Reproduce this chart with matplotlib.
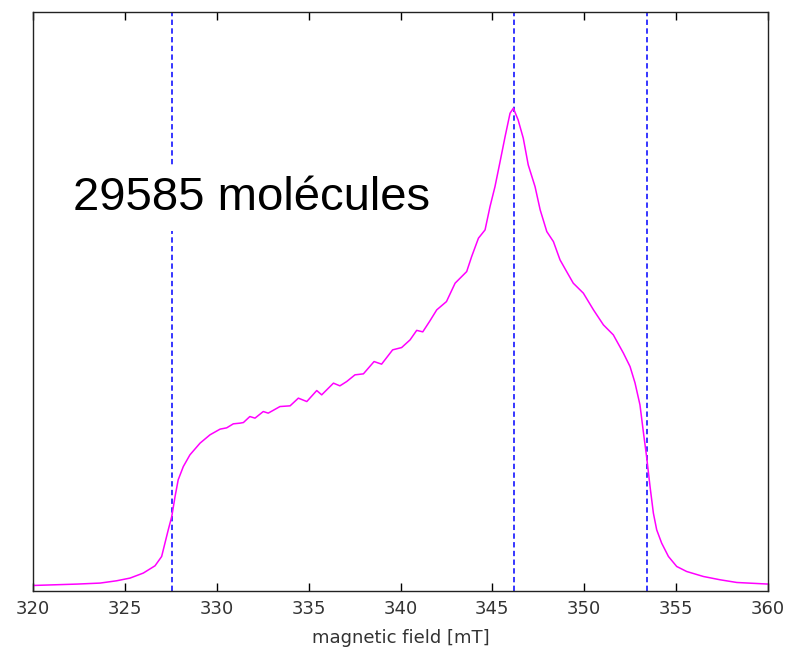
import matplotlib
matplotlib.use("Agg")
import matplotlib.pyplot as plt
import numpy as np

# magnetic field [mT]
field = [320.0, 322.4, 323.65, 324.55, 325.28, 326.0, 326.64, 327.0, 327.18, 327.36,
         327.55, 327.73, 327.9, 328.18, 328.54, 329.09, 329.63, 330.18, 330.54, 330.9,
         331.27, 331.45, 331.8, 332.08, 332.53, 332.8, 333.44, 333.99, 334.44, 334.9,
         335.44, 335.71, 336.35, 336.7, 337.07, 337.52, 337.98, 338.56, 338.97, 339.57,
         340.06, 340.52, 340.88, 341.21, 341.6, 341.97, 342.5, 342.97, 343.6, 343.87,
         344.24, 344.6, 344.87, 345.14, 345.4, 345.69, 345.96, 346.14, 346.4, 346.68,
         346.95, 347.32, 347.6, 347.96, 348.32, 348.68, 349.04, 349.4, 349.95, 350.5,
         351.04, 351.58, 352.13, 352.49, 352.76, 353.03, 353.2, 353.39, 353.58, 353.76,
         353.94, 354.21, 354.58, 355.03, 355.57, 356.48, 357.39, 358.3, 360.0]
# absorption intensity (arbitrary units)
intensity = [0.3, 1.7, 2.7, 5.0, 7.7, 12.7, 20.0, 29.3, 42.7, 56.0,
             69.3, 89.3, 106.0, 119.3, 131.0, 142.7, 151.0, 156.7, 158.0, 162.0,
             162.7, 163.3, 169.3, 167.7, 174.3, 172.7, 179.3, 180.0, 187.7, 184.3,
             195.3, 191.0, 202.7, 200.0, 204.3, 211.0, 212.0, 224.3, 221.7, 236.0,
             238.3, 246.0, 255.5, 254.0, 265.0, 276.0, 284.3, 302.7, 314.3, 329.3,
             347.7, 356.0, 379.3, 399.3, 422.7, 449.3, 472.7, 477.7, 466.0, 447.7,
             421.0, 399.3, 376.0, 354.3, 344.3, 326.0, 314.3, 302.7, 292.7, 276.0,
             261.0, 251.0, 232.7, 219.3, 203.0, 181.0, 156.0, 129.3, 99.0, 72.7,
             56.0, 42.7, 29.3, 19.3, 14.3, 9.3, 6.0, 3.3, 1.7]
# g-tensor resonance positions [mT]
resonances = [327.56, 346.18, 353.42]
xticks = [320, 325, 330, 335, 340, 345, 350, 355, 360]
label_text = "29585 molécules"

fig = plt.figure(figsize=(7.9, 6.54), dpi=100)
ax = fig.add_axes([0.0418, 0.0956, 0.9304, 0.8861])

ax.plot(field, intensity, color="#ff00ff", lw=1.1, zorder=2)
for r in resonances:
    ax.axvline(r, color="#0000ff", lw=1.1, linestyle=(0, (3.5, 2.2)), zorder=1)

ax.set_xlim(320, 360)
ax.set_ylim(-5.7, 574)
ax.set_xticks(xticks)
ax.set_xticklabels([str(t) for t in xticks], fontsize=13, family="DejaVu Sans", color="#333333")
ax.set_yticks([])
ax.tick_params(axis="x", direction="in", length=5.5, width=1.0, top=True, pad=6)
for s in ax.spines.values():
    s.set_linewidth(1.0)
    s.set_color("#222222")
ax.set_xlabel("magnetic field [mT]", fontsize=13, family="DejaVu Sans", color="#333333", labelpad=8)

ax.text(322.18, 376, label_text, fontsize=34, family="Liberation Sans", color="black",
        va="baseline", ha="left", zorder=3,
        bbox=dict(facecolor="white", edgecolor="none", pad=8))

fig.savefig("out.png", dpi=100)
